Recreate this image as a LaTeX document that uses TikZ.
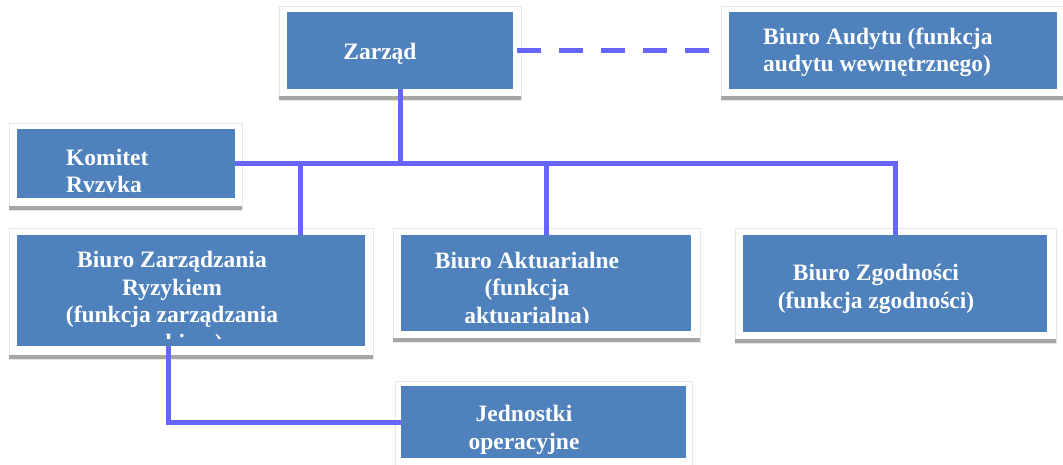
\documentclass[tikz,border=0pt]{standalone}
\usepackage{fontspec}
\setmainfont{Liberation Serif}
\definecolor{boxblue}{HTML}{4F81BD}
\definecolor{linkblue}{HTML}{6666FF}
\definecolor{shadowgray}{HTML}{A6A6A6}
\definecolor{framegray}{HTML}{E6E6E6}
\tikzset{
  box/.style={fill=boxblue, draw=none, inner sep=0pt},
  lbl/.style={text=white, font=\fontsize{23.5}{27.5}\selectfont\bfseries, inner sep=0pt},
  conn/.style={draw=linkblue, line width=5pt},
  frm/.style={fill=white, draw=framegray, line width=0.6pt},
  shd/.style={fill=shadowgray}
}
\begin{document}
\begin{tikzpicture}[x=1pt,y=-1pt]
\useasboundingbox (0,0) rectangle (1063,465);
% frames and shadows
\path[frm] (279,6) rectangle (521,100);
\path[shd] (279,96.5) rectangle (521,100);
\path[frm] (721,6) rectangle (1064,100);
\path[shd] (721,96.5) rectangle (1064,100);
\path[frm] (9,123) rectangle (242,210);
\path[shd] (9,206) rectangle (242,210);
\path[frm] (9,228) rectangle (373,359);
\path[shd] (9,355) rectangle (373,359);
\path[frm] (393,228) rectangle (700,342);
\path[shd] (393,338) rectangle (700,342);
\path[frm] (735,228) rectangle (1056,343);
\path[shd] (735,339) rectangle (1056,343);
\path[frm] (395,381) rectangle (692,467);
% blue boxes
\node[box, minimum width=226pt, minimum height=77pt] (zar) at (400,50.5) {};
\node[box, minimum width=328pt, minimum height=77pt] (aud) at (893,50.5) {};
\node[box, minimum width=218pt, minimum height=69pt] (kom) at (126,164) {};
\node[box, minimum width=348pt, minimum height=111pt] (bzr) at (191,290.5) {};
\node[box, minimum width=290pt, minimum height=96pt] (akt) at (546,283) {};
\node[box, minimum width=304pt, minimum height=97pt] (zgo) at (895,283.5) {};
\node[box, minimum width=285pt, minimum height=72pt] (jed) at (543.5,422) {};
% texts
\node[lbl] (zar-t) at (380,54) {Zarząd};
\node[lbl, align=left, anchor=west] (aud-t) at (763,52.5) {Biuro Audytu (funkcja\\audytu wewnętrznego)};
\node[lbl, align=left, anchor=west] (kom-t) at (66,171) {Komitet\\Rvzvka};
\begin{scope}
\clip (17,235) rectangle (365,338);
\node[lbl, align=center] (bzr-t) at (172,303.5) {Biuro Zarządzania\\Ryzykiem\\(funkcja zarządzania\\ryzykiem)};
\end{scope}
\begin{scope}
\clip (401,235) rectangle (691,322);
\node[lbl, align=center] (akt-t) at (527,290) {Biuro Aktuarialne\\(funkcja\\aktuarialna)};
\end{scope}
\node[lbl, align=center] (zgo-t) at (876,289) {Biuro Zgodności\\(funkcja zgodności)};
\node[lbl, align=center] (jed-t) at (524,430) {Jednostki\\operacyjne};
% connectors
\coordinate (bus) at (300,164);
\coordinate (jc) at (168,0);
\draw[conn] (zar.south) -- (zar.south |- kom.east);
\draw[conn] (kom.east) -- (kom.east -| zgo.north) -- (zgo.north);
\draw[conn] (bus) -- (bus |- bzr.north);
\draw[conn] (akt.north |- kom.east) -- (akt.north);
\draw[conn] (jed.west) -| (bzr.south -| jc);
\draw[conn, dash pattern=on 24pt off 18pt, shorten <=4pt, shorten >=19pt] (zar.east) -- (aud.west);
\end{tikzpicture}
\end{document}
